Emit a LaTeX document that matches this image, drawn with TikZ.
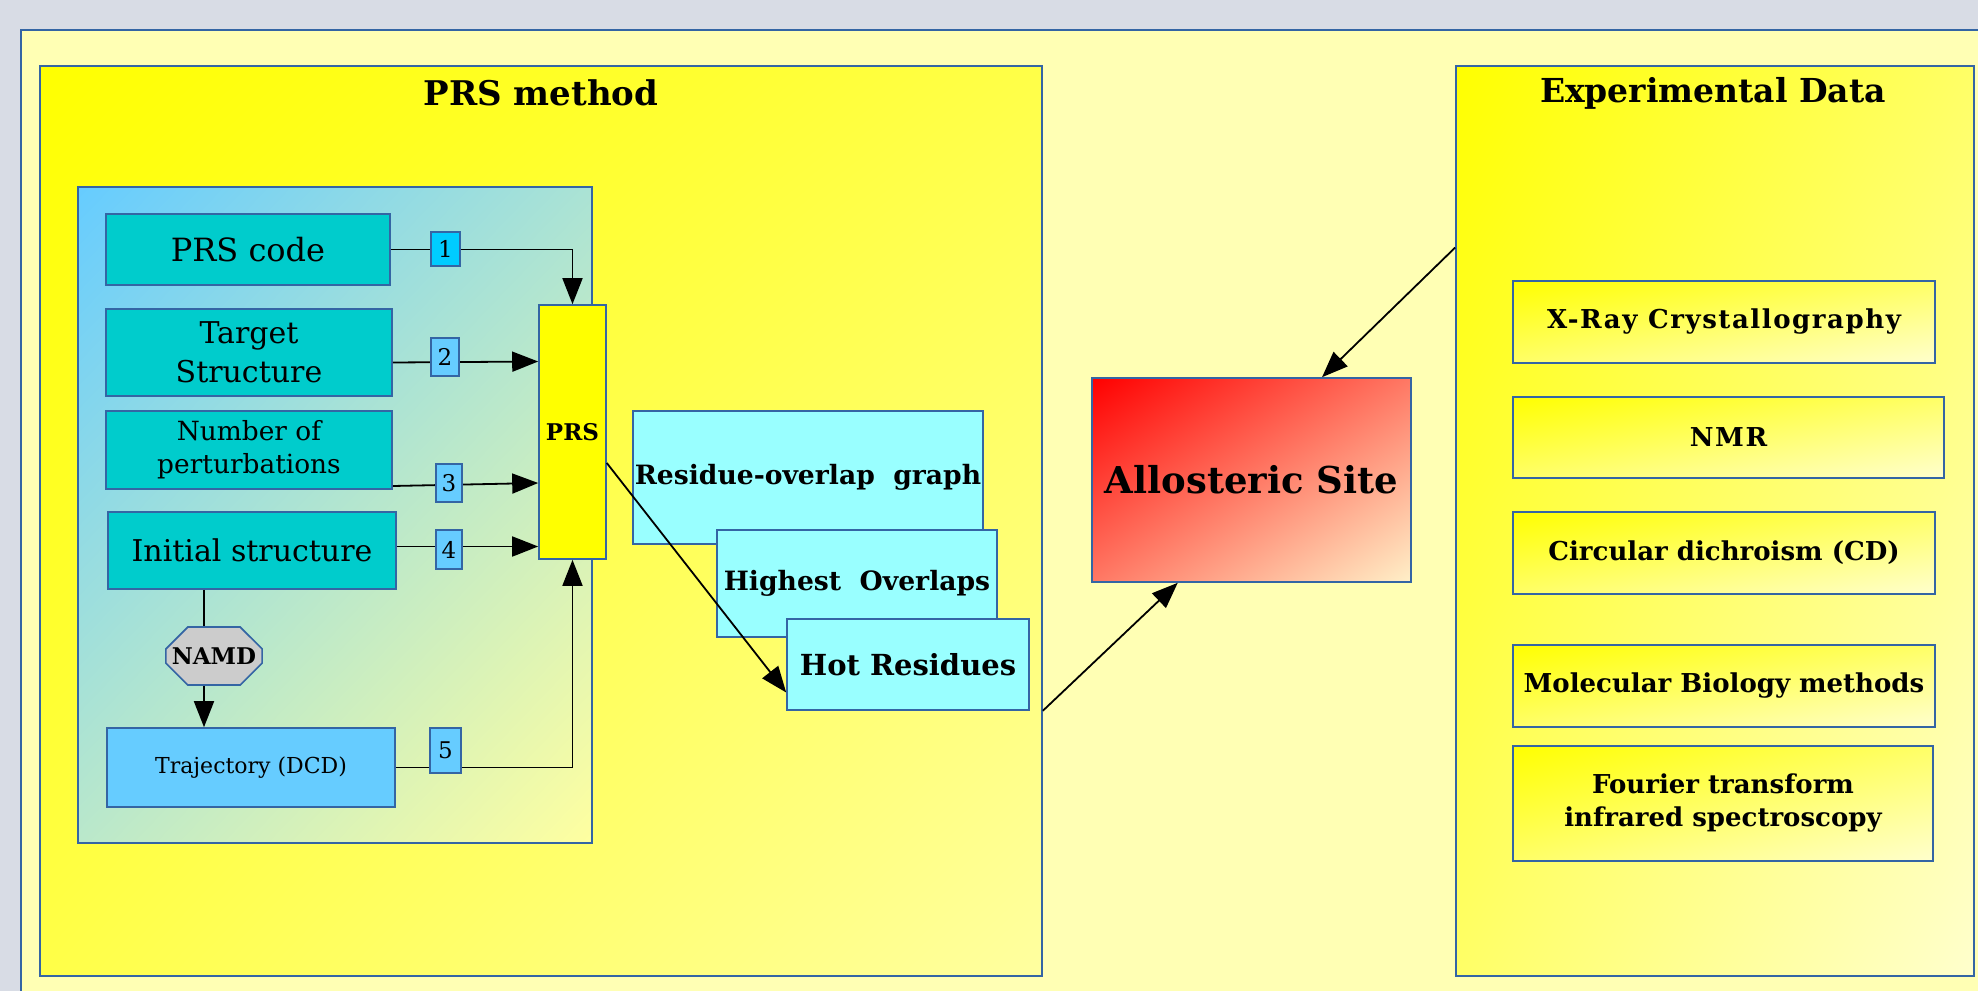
\documentclass[tikz,border=0pt]{standalone}
\usepackage{fontspec}
\setmainfont{DejaVu Serif}
\newfontfamily\spacedserif[LetterSpace=6]{DejaVu Serif}
\usetikzlibrary{arrows.meta,calc,positioning,shapes.misc,shadings}
\definecolor{PageGray}{RGB}{216,220,229}
\definecolor{PagePale}{RGB}{255,255,180}
\definecolor{LineBlue}{RGB}{52,101,164}
\definecolor{TealBox}{RGB}{0,204,204}
\definecolor{SkyBox}{RGB}{102,204,255}
\definecolor{BrightSky}{RGB}{0,204,255}
\definecolor{ResultCyan}{RGB}{153,255,255}
\definecolor{NamdGray}{RGB}{204,204,204}
\definecolor{PrsYellow}{RGB}{255,255,0}
\definecolor{PaleYellow}{RGB}{255,255,160}
\definecolor{CreamYellow}{RGB}{255,255,205}
\definecolor{PaleRose}{RGB}{255,240,200}

\tikzset{
  frame/.style={draw=LineBlue,line width=0.8pt,inner sep=0pt},
  yellowshade/.style={upper left=PrsYellow,lower right=PaleYellow,
    upper right=PrsYellow!55!PaleYellow,lower left=PrsYellow!55!PaleYellow},
  creamshade/.style={upper left=PrsYellow,lower right=CreamYellow,
    upper right=PrsYellow!50!CreamYellow,lower left=PrsYellow!50!CreamYellow},
  panelshade/.style={upper left=SkyBox,lower right=PaleYellow,
    upper right=SkyBox!55!PaleYellow,lower left=SkyBox!45!PaleYellow},
  redshade/.style={upper left=red,lower right=PaleRose,
    upper right=red!50!PaleRose,lower left=red!50!PaleRose},
  inbox/.style={frame,fill=TealBox,align=center,
    font=\fontsize{15}{19.5}\selectfont},
  numbox/.style={frame,fill=SkyBox,font=\fontsize{11.5}{13}\selectfont},
  result/.style={frame,fill=ResultCyan,font=\fontsize{13.3}{16}\selectfont\bfseries},
  expbox/.style={frame,creamshade,align=center,
    font=\fontsize{13}{16.5}\selectfont\bfseries},
  title/.style={font=\fontsize{17}{20}\selectfont\bfseries},
  arr/.style={->,black,line width=0.9pt}
}

\begin{document}
\begin{tikzpicture}[x=0.5pt,y=-0.5pt,>={Triangle[length=13pt,width=10pt]}]
  \useasboundingbox (0,0) rectangle (1978,991);
  \clip (0,0) rectangle (1978,991);
  \fill[PageGray] (0,0) rectangle (1978,991);
  \draw[LineBlue,line width=0.8pt,fill=PagePale] (21,30) rectangle (2010,1010);

  % PRS method side
  \node[frame,yellowshade,minimum width=501pt,minimum height=455pt] (method) at (541,521) {};
  \node[title] (methodtitle) at (541,93) {PRS method};
  \node[frame,panelshade,minimum width=257pt,minimum height=328pt] (panel) at (335,515) {};

  \node[inbox,minimum width=142pt,minimum height=35.5pt,
    font=\fontsize{16}{19}\selectfont] (code) at (248,249.5) {PRS code};
  \node[inbox,minimum width=143pt,minimum height=43.5pt] (target) at (249,352.5) {Target\\Structure};
  \node[inbox,minimum width=143pt,minimum height=39pt,
    font=\fontsize{13.2}{16.5}\selectfont] (pert) at (249,450) {Number of\\perturbations};
  \node[inbox,minimum width=144pt,minimum height=38.5pt] (init) at (252,550.5) {Initial structure};
  \node[frame,fill=NamdGray,chamfered rectangle,chamfered rectangle xsep=3pt,
    chamfered rectangle ysep=8pt,minimum width=41pt,minimum height=29pt,
    font=\fontsize{11.5}{13}\selectfont\bfseries] (namd) at (214,656) {NAMD};
  \node[frame,fill=SkyBox,minimum width=144pt,minimum height=39.5pt,
    font=\fontsize{11}{13}\selectfont] (traj) at (251,767.5) {Trajectory (DCD)};
  \node[frame,fill=PrsYellow,minimum width=33.5pt,minimum height=127pt,
    font=\fontsize{11.5}{13}\selectfont\bfseries] (prs) at (572.5,432) {PRS};

  % inputs into PRS
  \draw[arr] (code.east) -| (prs.north);
  \draw[arr] ([yshift=-5pt]target.east) -- ([yshift=-4.5pt]target.east -| prs.west);
  \draw[arr] ([yshift=-18pt]pert.east) -- ([yshift=-16.5pt]pert.east -| prs.west);
  \draw[arr] ([yshift=2pt]init.east) -- ([yshift=2pt]init.east -| prs.west);
  \draw[arr] (traj.east) -| (prs.south);
  \draw[line width=0.9pt] ([xshift=-5pt]namd.north |- init.south) -- ([xshift=-5pt]namd.north);
  \draw[arr] ([xshift=-5pt]namd.south) -- ([xshift=-5pt]namd.south |- traj.north);

  \node[numbox,fill=BrightSky,minimum width=14.5pt,minimum height=17pt] (n1) at (445.5,249) {1};
  \node[numbox,minimum width=14pt,minimum height=19pt] (n2) at (445,357) {2};
  \node[numbox,minimum width=13pt,minimum height=19pt] (n3) at (449,483) {3};
  \node[numbox,minimum width=13pt,minimum height=19.5pt] (n4) at (449,549.5) {4};
  \node[numbox,minimum width=15.5pt,minimum height=22.5pt] (n5) at (445.5,750.5) {5};

  % PRS output
  \node[result,minimum width=175pt,minimum height=66.5pt] (graph) at (808,477.5) {Residue-overlap~ graph};
  \node[result,minimum width=140pt,minimum height=53.5pt] (high) at (857,583.5) {Highest~ Overlaps};
  \node[result,minimum width=121pt,minimum height=45.5pt,
    font=\fontsize{14.5}{17}\selectfont\bfseries] (hot) at (908,664.5) {Hot Residues};
  \draw[arr] ([yshift=-15.5pt]prs.east) -- ([yshift=-14pt]hot.west);

  % experimental side
  \node[frame,creamshade,minimum width=259pt,minimum height=455pt] (expdata) at (1715,521) {};
  \node[title,font=\fontsize{16.5}{19}\selectfont\bfseries] (exptitle) at (1713,93) {Experimental Data};
  \node[expbox,minimum width=211pt,minimum height=41pt] (xray) at (1724,322) {\spacedserif X-Ray Crystallography};
  \node[expbox,minimum width=215.5pt,minimum height=40.5pt] (nmr) at (1728.5,437.5) {\spacedserif NMR};
  \node[expbox,minimum width=211pt,minimum height=41pt] (cd) at (1724,553) {Circular dichroism (CD)};
  \node[expbox,minimum width=211pt,minimum height=41pt] (mol) at (1724,686) {Molecular Biology methods};
  \node[expbox,minimum width=210pt,minimum height=57.5pt] (ftir) at (1723,803.5) {Fourier transform\\infrared spectroscopy};

  % allosteric site
  \node[frame,redshade,minimum width=159.5pt,minimum height=102pt,
    font=\fontsize{18.5}{22}\selectfont\bfseries] (allo) at (1251.5,480) {Allosteric Site};
  \draw[arr] ($(expdata.north west)!.2!(expdata.south west)$) -- ($(allo.north west)!.72!(allo.north east)$);
  \draw[arr] (method.east |- hot.south) -- ($(allo.south west)!.27!(allo.south east)$);
\end{tikzpicture}
\end{document}
